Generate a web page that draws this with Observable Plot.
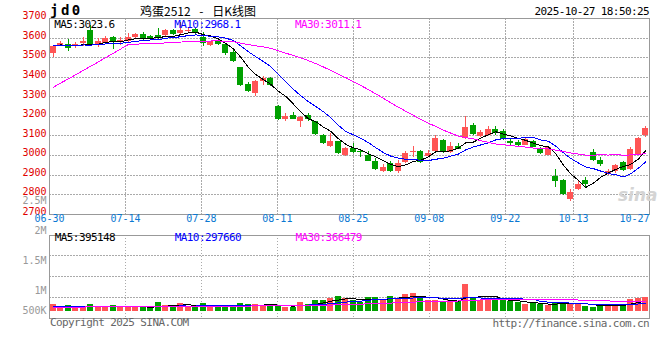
<!DOCTYPE html>
<html><head><meta charset="utf-8">
<script src="https://cdn.jsdelivr.net/npm/d3@7"></script>
<script src="https://cdn.jsdelivr.net/npm/@observablehq/plot@0.6"></script>
<style>
html,body{margin:0;padding:0;background:#fff;}
#wrap{position:relative;width:660px;height:360px;overflow:hidden;font-family:"DejaVu Sans Mono",monospace;}
#wrap svg{position:absolute;left:0;overflow:visible;}
.t{position:absolute;white-space:nowrap;font-size:11px;line-height:12px;letter-spacing:-0.6px;}
</style></head><body><div id="wrap"></div>
<script>
// ---- data ----
const dates = ["06-30","07-01","07-02","07-03","07-04","07-07","07-08","07-09","07-10","07-11","07-14","07-15","07-16","07-17","07-18","07-21","07-22","07-23","07-24","07-25","07-28","07-29","07-30","07-31","08-01","08-04","08-05","08-06","08-07","08-08","08-11","08-12","08-13","08-14","08-15","08-18","08-19","08-20","08-21","08-22","08-25","08-26","08-27","08-28","08-29","09-01","09-02","09-03","09-04","09-05","09-08","09-09","09-10","09-11","09-12","09-15","09-16","09-17","09-18","09-19","09-22","09-23","09-24","09-25","09-26","09-29","09-30","10-09","10-10","10-13","10-14","10-15","10-16","10-17","10-20","10-21","10-22","10-23","10-24","10-27"];
const open  = [3520,3564,3568,3558,3571,3639,3561,3574,3605,3578,3585,3602,3619,3609,3612,3612,3639,3626,3632,3643,3605,3561,3585,3568,3527,3449,3363,3315,3380,3394,3250,3182,3207,3175,3203,3172,3104,3046,3070,2998,3036,3022,3001,2967,2919,2960,2919,2964,3015,3022,2995,3022,3077,3015,3046,3087,3155,3097,3104,3131,3124,3073,3066,3053,3070,3032,3001,2892,2872,2773,2825,2872,3015,2974,2902,2916,2964,2926,3005,3101];
const high  = [3565,3585,3592,3578,3605,3663,3600,3609,3609,3602,3622,3622,3629,3615,3650,3646,3646,3680,3650,3648,3629,3585,3592,3575,3535,3452,3373,3385,3404,3397,3258,3213,3220,3199,3213,3175,3107,3111,3073,3040,3060,3029,3022,2984,2954,2967,2974,3022,3046,3025,3025,3104,3080,3066,3060,3199,3162,3128,3148,3148,3131,3087,3077,3090,3077,3042,3042,2930,2875,2824,2865,2886,3029,2988,2930,2954,2967,3040,3093,3148];
const low   = [3500,3558,3530,3547,3558,3560,3555,3568,3540,3564,3571,3600,3585,3588,3588,3605,3612,3620,3625,3618,3558,3558,3561,3510,3476,3353,3322,3302,3356,3353,3178,3175,3182,3145,3175,3100,3057,3039,3005,2995,3012,2990,2968,2923,2913,2915,2906,2960,2988,2958,2988,3015,3012,3008,3029,3080,3100,3090,3100,3104,3077,3050,3039,3050,3039,3005,2998,2835,2797,2766,2820,2835,2967,2943,2896,2909,2920,2922,2998,3093];
const close = [3560,3571,3547,3568,3585,3563,3585,3598,3578,3588,3605,3619,3595,3595,3598,3639,3619,3639,3639,3622,3574,3582,3568,3523,3482,3359,3329,3380,3394,3359,3182,3199,3185,3193,3182,3107,3063,3073,3008,3036,3015,3015,2970,2930,2937,2919,2960,3012,3022,2964,3008,3087,3015,3046,3032,3141,3107,3117,3131,3111,3080,3063,3053,3080,3042,3012,3039,2868,2800,2810,2852,2852,2974,2953,2919,2947,2923,3029,3087,3138];
const volume = [258e3,154e3,219e3,154e3,181e3,258e3,154e3,154e3,219e3,154e3,154e3,154e3,181e3,88e3,335e3,219e3,219e3,296e3,181e3,154e3,296e3,154e3,154e3,219e3,154e3,296e3,258e3,258e3,219e3,219e3,219e3,154e3,154e3,335e3,258e3,412e3,412e3,488e3,565e3,488e3,412e3,335e3,527e3,527e3,450e3,565e3,450e3,642e3,681e3,488e3,412e3,412e3,335e3,412e3,373e3,1027e3,527e3,412e3,488e3,412e3,412e3,373e3,335e3,258e3,296e3,258e3,219e3,335e3,335e3,296e3,296e3,181e3,142e3,181e3,258e3,258e3,219e3,450e3,488e3,527e3];
// closes / volumes of the 29 sessions before the window (estimated from the MA lines at the left edge)
const priorClose = [2915,2930,2920,2925,2910,2935,2920,2918,2925,2920,3555,3570,3560,3565,3550,3568,3562,3560,3565,3560,3570,3555,3565,3562,3568,3558,3566,3562,3570];
const priorVolume = [120e3,130e3,125e3,120e3,135e3,128e3,122e3,130e3,126e3,124e3,132e3,128e3,140e3,135e3,150e3,145e3,160e3,150e3,170e3,160e3,175e3,165e3,180e3,170e3,175e3,185e3,170e3,180e3,175e3];
const priceTicks = [2700,2800,2900,3000,3100,3200,3300,3400,3500,3600,3700];
const volTickValues = [2.5e6,2e6,1.5e6,1e6,5e5];
const volTickLabels = ["2.5M","2M","1.5M","1M","500K"];
const dateTicks = ["06-30","07-14","07-28","08-11","08-25","09-08","09-22","10-13","10-27"];
const priceLegend = ["MA5:3023.6","MA10:2968.1","MA30:3011.1"];
const volLegend = ["MA5:395148","MA10:297660","MA30:366479"];

// ---- derived ----
const UP = "#ff5555", DOWN = "#00a000";
const MA_COLORS = ["#000000","#0000ff","#ff00ff"];
const N = dates.length;
const rows = dates.map((d,i)=>({i, d, o:open[i], h:high[i], l:low[i], c:close[i], v:volume[i], col: close[i]>=open[i]?UP:DOWN}));
function ma(all, pre, n){ return d3.range(N).map(i=>({i, v:d3.mean(all.slice(pre+i-n+1, pre+i+1))})); }
const allC = priorClose.concat(close), allV = priorVolume.concat(volume);
const pMA = [5,10,30].map(n=>ma(allC, priorClose.length, n));
const vMA = [5,10,30].map(n=>ma(allV, priorVolume.length, n));
const gridX = i => i*N/(N-1) - 0.5;   // Sina places date grid on an (N-1)-step scale
const tickIdx = dateTicks.map(t=>dates.indexOf(t));
const innerIdx = tickIdx.slice(1,-1);
const HW = 0.37;
const GRID = {stroke:"#aaaaaa", strokeDasharray:"1.5,1.5", strokeWidth:1};

const common = {width:660, marginLeft:49, marginRight:11, x:{domain:[-0.5,N-0.5], axis:null},
  style:{background:"transparent", overflow:"visible", fontFamily:"'DejaVu Sans Mono',monospace", fontSize:"10px", shapeRendering:"crispEdges"}};

const price = Plot.plot({...common, height:228, marginTop:18.2, marginBottom:14.4,
  y:{domain:[2700,3700], axis:null},
  marks:[
    Plot.ruleY(priceTicks.slice(1,-1), GRID),
    Plot.ruleX(innerIdx.map(gridX), GRID),
    Plot.ruleX(rows, {x:"i", y1:"l", y2:"h", stroke:"col"}),
    Plot.rect(rows, {x1:d=>d.i-HW, x2:d=>d.i+HW, y1:"o", y2:"c", fill:"col"}),
    ...pMA.map((m,k)=>Plot.line(m, {x:"i", y:"v", stroke:MA_COLORS[k], strokeWidth:1})),
    Plot.frame({stroke:"#999"}),
    Plot.text(priceTicks, {y:d=>d, text:d=>String(d), frameAnchor:"left", textAnchor:"end", dx:-3, dy:-2.5, fill:"#e00000", fontSize:10}),
    Plot.text(tickIdx.slice(0,-1), {x:gridX, text:i=>dates[i], frameAnchor:"bottom", dy:8, fill:"#0a78d2", fontSize:10}),
    Plot.text(tickIdx.slice(-1), {x:gridX, text:i=>dates[i], frameAnchor:"bottom", dy:8, textAnchor:"end", fill:"#0a78d2", fontSize:10})
  ]});

const vd = [-0.27e6, 2.923e6];
const volLabelPos = v => Math.max(v*60/26 - 1.5385e6, 0.027e6);
const vol = Plot.plot({...common, height:170, marginTop:44.7, marginBottom:42.3,
  y:{domain:vd, axis:null},
  marks:[
    Plot.ruleY([1,2,3].map(k=>vd[0]+(vd[1]-vd[0])*k/4), GRID),
    Plot.ruleX(innerIdx.map(gridX), GRID),
    Plot.rect(rows, {x1:d=>d.i-HW, x2:d=>d.i+HW, y1:0, y2:"v", fill:"col"}),
    ...vMA.map((m,k)=>Plot.line(m, {x:"i", y:"v", stroke:MA_COLORS[k], strokeWidth:1})),
    Plot.frame({stroke:"#999"}),
    Plot.text(volTickValues, {y:volLabelPos, text:(d,j)=>volTickLabels[j], frameAnchor:"left", textAnchor:"end", dx:-3, fill:"#999", fontSize:10})
  ]});

const wrap = document.getElementById("wrap");
price.style.top = "0px"; vol.style.top = "190px";
wrap.appendChild(price); wrap.appendChild(vol);

function addText(txt, css){ const d=document.createElement("div"); d.className="t"; d.textContent=txt; Object.assign(d.style, css); wrap.appendChild(d); }
addText("jd0", {left:"50px", top:"3px", fontSize:"14px", lineHeight:"15px", fontWeight:"bold", letterSpacing:"2.5px"});
addText("鸡蛋2512 - 日K线图", {left:"140px", top:"4px", fontSize:"12px", lineHeight:"13px", letterSpacing:"0px", wordSpacing:"6px", fontFamily:"'Noto Sans CJK SC',sans-serif"});
addText("2025-10-27 18:50:25", {right:"11px", top:"5.7px"});
const legX = [54.3, 174.3, 295];
priceLegend.forEach((s,k)=>addText(s, {left:legX[k]+"px", top:"18.5px", color:MA_COLORS[k]}));
volLegend.forEach((s,k)=>addText(s, {left:(legX[k]+0.5)+"px", top:"232.3px", color:MA_COLORS[k]}));
addText("Copyright 2025 SINA.COM", {left:"50px", top:"317.3px", color:"#666"});
addText("http://finance.sina.com.cn", {right:"11px", top:"318px", color:"#666"});
addText("sina", {left:"618px", top:"186px", fontSize:"17px", lineHeight:"18px", fontStyle:"italic", fontWeight:"bold", color:"#d4d4d4", fontFamily:"'DejaVu Sans',sans-serif", letterSpacing:"0px"});
</script></body></html>
